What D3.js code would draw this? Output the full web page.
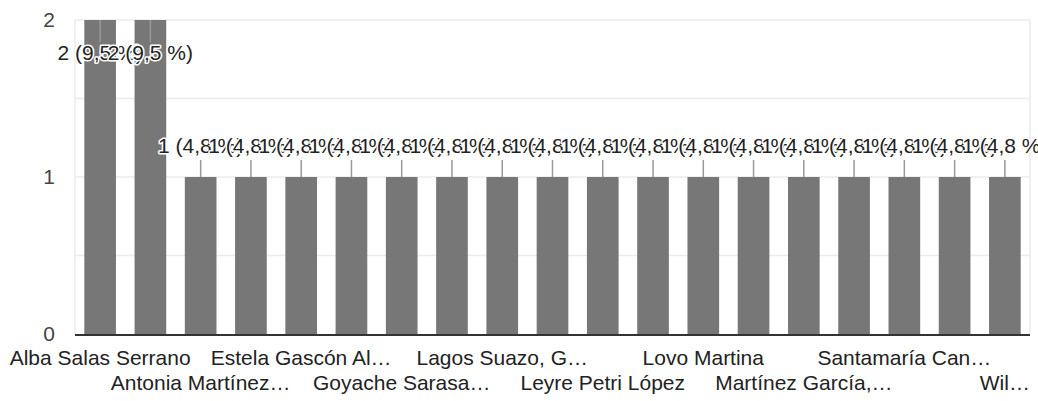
<!DOCTYPE html>
<html><head><meta charset="utf-8">
<script src="https://cdn.jsdelivr.net/npm/d3@7"></script>
<style>
body{margin:0;background:#fff}
text{font-family:"Liberation Sans",Arial,sans-serif}
</style>
</head><body>
<svg id="c" width="1038" height="401"></svg>
<script>
// ---- data ----
const categories = [
  "Alba Salas Serrano", "(sin etiqueta 2)", "Antonia Martínez…", "(sin etiqueta 4)",
  "Estela Gascón Al…", "(sin etiqueta 6)", "Goyache Sarasa…", "(sin etiqueta 8)",
  "Lagos Suazo, G…", "(sin etiqueta 10)", "Leyre Petri López", "(sin etiqueta 12)",
  "Lovo Martina", "(sin etiqueta 14)", "Martínez García,…", "(sin etiqueta 16)",
  "Santamaría Can…", "(sin etiqueta 18)", "Wil…"
];
const values = [2, 2, 1, 1, 1, 1, 1, 1, 1, 1, 1, 1, 1, 1, 1, 1, 1, 1, 1];
const yTicks = [0, 1, 2];
const gridTicks = [0.5, 1, 1.5, 2];

const total = d3.sum(values);
const annot = values.map(v => v + " (" + (v / total * 100).toFixed(1).replace(".", ",") + " %)");

// ---- layout ----
const svg = d3.select("#c");
const L = 75, R = 1030, T = 20, B = 334;
const FS = 20, SX = 1.05;
const x = d3.scaleBand().domain(d3.range(categories.length)).range([L, R]).paddingInner(0.37).paddingOuter(0.185);
const y = d3.scaleLinear().domain([0, 2]).range([B, T]);

// gridlines
svg.append("g").selectAll("line").data(gridTicks).join("line")
  .attr("x1", L).attr("x2", R).attr("y1", d => y(d)).attr("y2", d => y(d))
  .attr("stroke", "#ebebeb").attr("stroke-width", 1.5);
svg.append("g").selectAll("line").data([L, R]).join("line")
  .attr("x1", d => d).attr("x2", d => d).attr("y1", T).attr("y2", B)
  .attr("stroke", "#ebebeb").attr("stroke-width", 1.5);

// y tick labels
svg.append("g").selectAll("text").data(yTicks).join("text")
  .attr("transform", d => `translate(55,${y(d)}) scale(${SX},1)`)
  .attr("text-anchor", "end").attr("dy", "0.35em")
  .attr("font-size", FS).attr("fill", "#444").text(d => d);

// bars
svg.append("g").selectAll("rect").data(values).join("rect")
  .attr("x", (d, i) => x(i)).attr("width", x.bandwidth())
  .attr("y", d => y(d)).attr("height", d => B - y(d))
  .attr("fill", "#777777");

// axis line
svg.append("line").attr("x1", L).attr("x2", R).attr("y1", B + 1).attr("y2", B + 1)
  .attr("stroke", "#333").attr("stroke-width", 2);

// x labels (every other, staggered)
svg.append("g").selectAll("text").data(categories.map((c, i) => ({c, i})).filter(d => d.i % 2 === 0)).join("text")
  .attr("transform", d => `translate(${x(d.i) + x.bandwidth() / 2},${365 + ((d.i / 2) % 2) * 25}) scale(${SX},1)`)
  .attr("text-anchor", "middle").attr("font-size", FS).attr("fill", "#222")
  .text(d => d.c);

// annotations: stems + labels
const inside = v => y(v) - 30 < T;
const cx = i => x(i) + x.bandwidth() / 2;
svg.append("g").selectAll("line").data(values).join("line")
  .attr("x1", (d, i) => cx(i)).attr("x2", (d, i) => cx(i))
  .attr("y1", d => inside(d) ? y(d) : y(d) - 17)
  .attr("y2", d => inside(d) ? y(d) + 22 : y(d))
  .attr("stroke", "#999").attr("stroke-width", 1.5);
const ag = svg.append("g");
values.forEach((v, i) => {
  ag.append("text")
    .attr("transform", `translate(${cx(i)},${inside(v) ? y(v) + 40 : y(v) - 24}) scale(${SX},1)`)
    .attr("text-anchor", "middle").attr("font-size", FS).attr("fill", "#222")
    .attr("stroke", "#fff").attr("stroke-width", 3).attr("stroke-linejoin", "round")
    .attr("paint-order", "stroke")
    .text(annot[i]);
});
</script>
</body></html>
